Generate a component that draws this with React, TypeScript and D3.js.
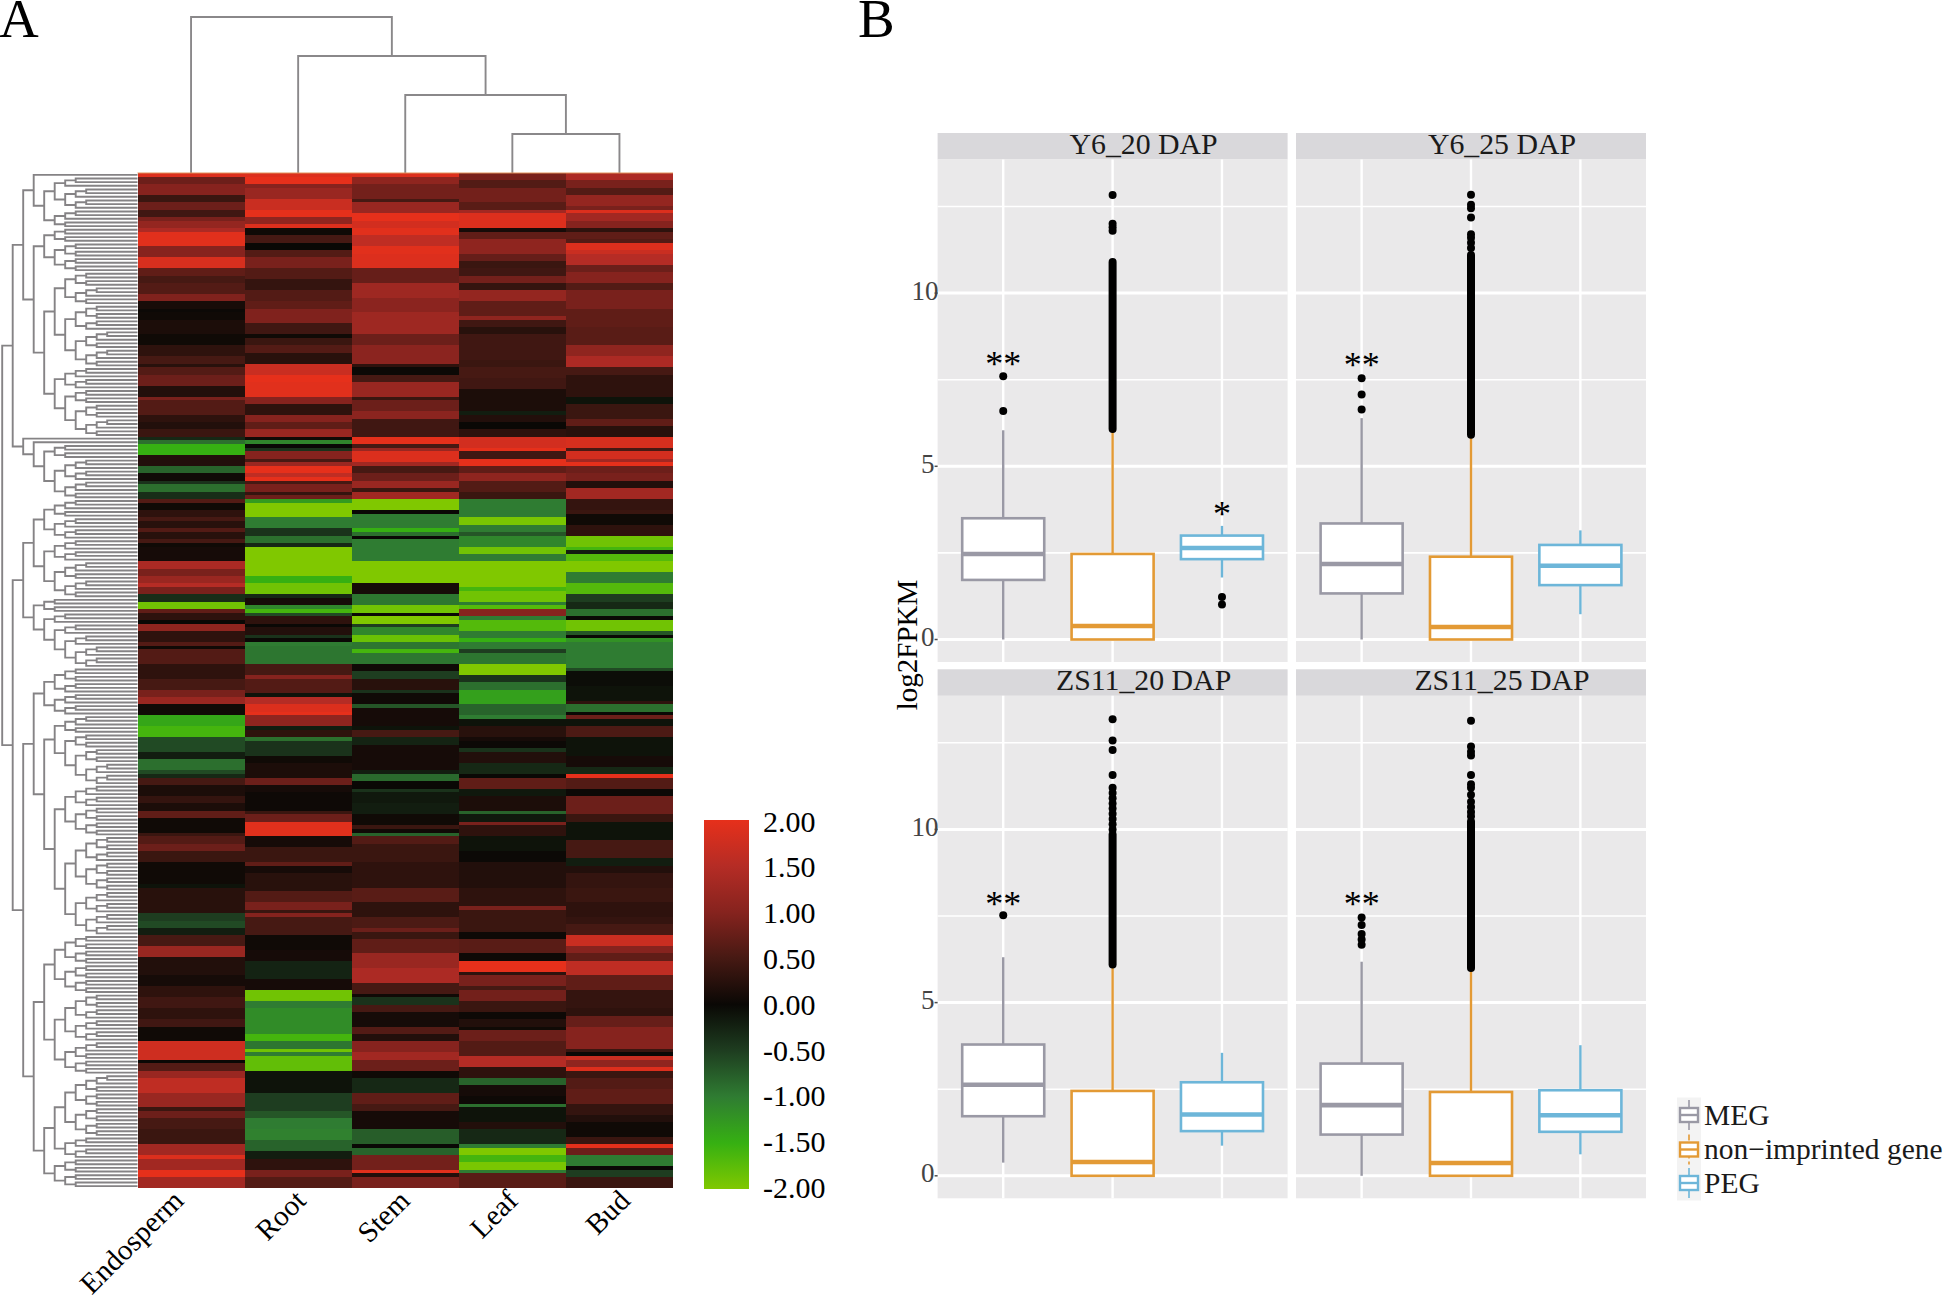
import * as d3 from 'd3';

// panel A: heatmap read as [last row, value] runs per tissue, top to bottom
const tissues = ['Endosperm', 'Root', 'Stem', 'Leaf', 'Bud'];
const rowCount = 277;
const endospermRuns = [[1,1.9],[3,.8],[6,1],[8,.4],[10,.8],[12,.45],[13,.9],[15,1.15],[16,1.4],[20,1.95],[23,1],[26,1.85],[28,.7],[30,.5],[33,.6],[35,.95],[37,.12],[38,.02],[40,.05],[44,.15],[47,.05],[50,.3],[52,.5],[53,.25],[55,.6],[58,.8],[61,.2],[62,.9],[66,.6],[68,.3],[70,.2],[72,.4],[73,-.3],[74,-.9],[77,-1.5],[80,.2],[82,-.8],[84,.05],[85,-.4],[87,-.9],[89,-.35],[90,.6],[92,.05],[94,.3],[95,.5],[97,.25],[98,.6],[100,.25],[101,.5],[102,.05],[106,.1],[108,1.4],[110,.9],[112,1.2],[113,1.5],[115,.9],[117,-.35],[119,-1.9],[120,.7],[122,.3],[123,0],[125,1.1],[128,.3],[129,.6],[130,.05],[134,.6],[138,.3],[141,.5],[143,.9],[145,1.2],[148,.05],[151,-1.4],[154,-1.6],[158,-.6],[160,-.2],[163,-.9],[164,-.6],[165,-.3],[167,.5],[170,.15],[172,.35],[174,.15],[176,.7],[180,.05],[181,.4],[183,.6],[185,.8],[188,.4],[194,.05],[195,-.1],[202,.25],[204,-.5],[206,-.6],[208,-.2],[211,.5],[214,1.2],[219,.2],[222,.1],[225,.3],[228,.45],[231,.3],[233,.45],[237,.05],[242,1.75],[243,0],[245,.6],[247,1.2],[251,1.6],[255,1.2],[256,.4],[258,.8],[261,.5],[265,.4],[268,1.3],[269,1.9],[272,1.3],[274,2],[277,1.3]];
const rootRuns = [[1,1.9],[3,2],[4,1],[7,1.2],[10,1.7],[12,2],[14,1.1],[15,1.9],[17,.05],[19,.5],[21,0],[23,.6],[26,.9],[29,.6],[32,.35],[35,.6],[37,.7],[41,.95],[44,.45],[45,.05],[47,.4],[49,.6],[52,.25],[55,1.7],[57,2],[61,1.95],[63,1],[66,.3],[68,1],[70,.7],[72,1.2],[73,.05],[74,-1.1],[75,0],[76,-.4],[78,1],[79,.5],[80,1.2],[82,2],[83,1.6],[84,2],[85,.5],[87,.9],[88,.35],[89,.8],[90,-1.3],[94,-2],[97,-1],[99,-.4],[101,-.9],[102,-.3],[110,-2],[112,-1.5],[115,-1.9],[116,-.3],[118,.1],[119,-1.1],[120,-1.6],[121,-.6],[123,.3],[124,0],[126,.2],[127,-.4],[128,0],[129,-1],[134,-.95],[137,.5],[138,1],[142,.6],[143,-.1],[145,1.5],[147,1.9],[148,2],[151,1.1],[152,-.2],[154,.3],[155,-.9],[159,-.4],[161,.05],[165,.15],[167,.8],[169,.1],[174,.03],[175,.4],[177,.8],[181,1.95],[184,.1],[188,.4],[189,.7],[191,.1],[196,.25],[199,.6],[201,.9],[202,.4],[203,1],[208,.5],[212,.05],[215,.1],[220,-.25],[223,.1],[226,-1.9],[228,-1],[235,-1.15],[237,-1.6],[239,-.95],[240,-1.9],[241,-1],[245,-1.8],[251,-.1],[256,-.5],[258,-.7],[261,-1],[264,-1.05],[267,-.8],[269,-.2],[272,.3],[274,.9],[277,.6]];
const stemRuns = [[1,1.9],[3,1.1],[7,.85],[8,.5],[11,1.2],[13,2],[15,1.8],[17,1.95],[20,1.6],[22,1.95],[26,1.9],[30,.75],[34,1.25],[38,1.05],[44,1.25],[47,.8],[52,1.05],[53,.3],[55,.02],[57,.5],[61,1.2],[62,.4],[65,.8],[67,1.05],[72,.45],[74,2],[75,.5],[76,1.2],[79,1.9],[80,1.3],[82,.5],[84,.8],[86,1.2],[87,.4],[89,1.3],[92,-2],[93,0],[97,-1],[98,-1.5],[99,-.9],[100,0],[106,-1],[112,-2],[115,.1],[118,-.95],[120,-1.9],[121,0],[123,-2],[124,-.5],[126,-1.1],[128,-1.85],[130,-.95],[131,-1.6],[134,-.95],[136,.05],[138,-.5],[141,.25],[142,-.4],[145,.05],[146,-.7],[151,.1],[152,-.1],[154,.5],[156,-.25],[163,.1],[164,-.2],[166,-.85],[168,0],[169,-.4],[172,-.15],[175,-.2],[178,.05],[179,.4],[180,.05],[181,-.8],[183,.6],[188,.4],[195,.3],[199,.65],[203,.3],[206,.55],[207,.8],[209,.4],[213,.7],[217,1.2],[221,1.4],[224,.5],[225,.05],[227,-.4],[229,.5],[233,.1],[235,.6],[237,.2],[240,1],[242,1.3],[245,.8],[247,.05],[251,-.3],[254,.7],[256,.5],[261,.1],[265,-.75],[266,0],[268,-.8],[272,.85],[273,1.95],[274,.2],[277,.9]];
const leafRuns = [[2,.9],[4,.6],[8,.85],[10,.65],[11,1.3],[15,1.9],[16,.1],[18,.7],[22,1.1],[24,.75],[26,.4],[28,.45],[30,.85],[32,.35],[35,1.15],[39,.7],[40,1.1],[42,.45],[44,.25],[51,.45],[53,.4],[56,.5],[59,.45],[65,.15],[66,-.2],[68,.2],[70,0],[72,.3],[75,1.8],[76,2],[78,.45],[80,2],[82,.7],[84,1.1],[87,.6],[89,.4],[94,-1],[96,-1.95],[98,-1],[99,-.7],[102,-1.1],[104,-1.9],[106,-1],[113,-2],[114,-1.6],[117,-1.9],[118,-1],[119,-1.7],[121,1],[122,-1],[125,-1.7],[127,-1],[128,-1.5],[130,-1],[131,-.5],[134,-.95],[137,-2],[139,-.4],[141,-.9],[145,-1.35],[148,-.8],[149,-1],[151,-.1],[154,.25],[155,.1],[157,.02],[158,-.4],[161,.2],[164,-.3],[165,0],[168,.7],[170,-.15],[174,.15],[175,-.8],[177,-.15],[178,.9],[181,.3],[185,-.1],[188,.02],[195,.2],[200,.3],[201,.9],[207,.4],[209,.03],[213,.65],[215,.03],[218,2],[219,.3],[222,.9],[223,.5],[226,.85],[229,.4],[231,.03],[233,.2],[234,.05],[237,.8],[241,.6],[244,1.5],[247,.3],[249,-.8],[252,.1],[254,.03],[255,-.9],[259,-.1],[261,.2],[265,-.3],[266,-1],[268,-2],[270,-1.6],[272,-1.95],[273,-1],[277,.65]];
const budRuns = [[2,1.4],[4,.9],[6,.6],[9,1.15],[10,.9],[11,1.9],[13,1.3],[15,1],[16,.3],[18,.7],[19,.6],[21,1.9],[22,1.7],[25,1.5],[27,.8],[30,1],[32,.6],[37,.9],[42,.7],[47,.65],[50,1.1],[53,1.4],[55,.5],[61,.3],[63,-.1],[67,.4],[69,.7],[72,.25],[75,1.85],[76,.5],[78,1.8],[79,1.3],[80,2],[82,.8],[84,.9],[86,.2],[89,1.3],[92,.35],[93,.4],[96,.05],[99,.3],[102,-1.9],[103,-1.6],[104,-.2],[106,-1.7],[109,-2],[112,-1],[115,-1.7],[117,-.5],[119,-.3],[121,-.9],[122,0],[125,-1.9],[126,-.7],[127,0],[128,-1.2],[135,-1],[136,-.6],[140,-.05],[144,-.1],[145,.3],[147,-.9],[148,0],[149,.8],[151,-.1],[154,.55],[159,-.1],[162,.1],[164,-.3],[165,2],[168,.6],[170,.02],[175,.8],[177,.4],[182,-.1],[187,.5],[189,-.2],[191,.2],[195,.35],[199,.4],[203,.3],[205,.35],[208,.5],[211,1.7],[213,1],[215,.7],[219,1.6],[223,.7],[228,.35],[230,.3],[233,.75],[239,1],[240,.4],[241,.02],[242,1.7],[244,1.1],[245,1.9],[247,.4],[250,.6],[254,.7],[257,.35],[259,.2],[263,.05],[265,.4],[266,2],[268,.8],[271,-1],[272,0],[274,-.5],[277,.4]];
const tissueRuns = [endospermRuns, rootRuns, stemRuns, leafRuns, budRuns];

const legendTicks = [2, 1.5, 1, 0.5, 0, -0.5, -1, -1.5, -2];
const legendColors = ['#e6301b', '#b52c25', '#86231e', '#461913', '#0a0805', '#1e3d20', '#2f7c32', '#36b012', '#80c800'];

// column tree, then row tree: a number stands for a small cluster of that many rows
const columnTree = ['Endosperm', ['Root', ['Stem', ['Leaf', 'Bud']]]];
const rowTreeA = [
  [[1, [[[3, 6], 5]]], [[4, 8], [[[4, 5], [7, 10]], [6, [4, [4, [3, 2]]]]]]],
  [1, [1, [4, [[3, 3], [3, 2]]]]],
];
const rowTreeB = [
  [[[5, 6], [6, 10]], [4, [3, [3, [3, [3, 3]]]]]],
  [
    [[7, 6], [[5, [4, [4, [3, 3]]]], [[6, 8], [[7, 8], [6, 6]]]]],
    [[[[8, 8], [[7, 6], 9]], [[[9, 8], 6], 8]]],
  ],
];

// panel B: one row per panel, one column per gene group
const panels = ['Y6_20 DAP', 'Y6_25 DAP', 'ZS11_20 DAP', 'ZS11_25 DAP'];
const geneGroups = ['MEG', 'non\u2212imprinted gene', 'PEG'];
const groupColors = ['#9a99a5', '#e39a35', '#6db6d9'];
const whiskerLow = [[0, 0, 1.79], [0, 0, 0.73], [0.38, 0, 0.87], [0, 0, 0.62]];
const quartile1 = [[1.72, 0, 2.32], [1.33, 0, 1.57], [1.72, 0, 1.29], [1.19, 0, 1.27]];
const medians = [[2.47, 0.39, 2.64], [2.18, 0.36, 2.13], [2.63, 0.4, 1.77], [2.04, 0.37, 1.75]];
const quartile3 = [[3.5, 2.47, 3.0], [3.35, 2.39, 2.73], [3.79, 2.45, 2.7], [3.24, 2.42, 2.47]];
const whiskerHigh = [[6.04, 6.08, 3.28], [6.39, 5.91, 3.15], [6.31, 6.1, 3.55], [6.18, 6.0, 3.77]];
const megOutliers = [[7.6, 6.6], [7.54, 7.07, 6.64], [7.52], [7.46, 7.24, 6.98, 6.82, 6.67]];
const pegOutliers = [[1.23, 1.01], [], [], []];
// non-imprinted outliers overlap into a solid bar between these two values
const nonDenseBars = [[6.08, 10.9], [5.91, 11.1], [6.1, 9.85], [6.0, 10.23]];
const nonOutliers = [
  [11.8, 11.9, 12.0, 12.83],
  [11.3, 11.45, 11.6, 11.7, 12.18, 12.45, 12.55, 12.84],
  [10.0, 10.15, 10.3, 10.45, 10.6, 10.75, 10.9, 11.05, 11.2, 11.57, 12.29, 12.57, 13.18],
  [10.38, 10.5, 10.65, 10.8, 11.0, 11.2, 11.3, 11.57, 12.13, 12.24, 12.39, 13.14],
];
const starMarks = [
  [{ group: 0, at: 8.1, text: '**' }, { group: 2, at: 3.76, text: '*' }],
  [{ group: 0, at: 8.06, text: '**' }],
  [{ group: 0, at: 8.0, text: '**' }],
  [{ group: 0, at: 7.98, text: '**' }],
];
const majorTicks = [0, 5, 10];
const minorTicks = [2.5, 7.5, 12.5];

const SERIF = '"Liberation Serif", serif';

const expand = (n: any): any => {
  if (Array.isArray(n)) return n.length === 1 ? expand(n[0]) : n.map(expand);
  if (typeof n !== 'number' || n === 1) return n;
  return [expand(Math.ceil(n / 2)), expand(Math.floor(n / 2))];
};

// cluster puts leaf i at (i + 0.5) / n * size, so size n gives leaves in row units
function layoutTree(tree: any, size: number) {
  const root = d3.hierarchy(expand(tree), (d: any) => (Array.isArray(d) ? d : null));
  d3.cluster().separation(() => 1).size([size, 1])(root as any);
  return root as any;
}

const rowY = d3.scaleLinear().domain([0, rowCount]).range([173, 1188]);
const colX = d3.scaleBand().domain(tissues).range([137.5, 673]);
const heatColor = d3.scaleLinear<string>().domain(legendTicks).range(legendColors).clamp(true);
const labelNudge = [-13, 2, -1, 0, 5];

function Heatmap() {
  const rowRoot = layoutTree([rowTreeA, rowTreeB], rowCount);
  const depthX = (d: number) => 2.2 + 10.5 * d;
  let rowPath = '';
  rowRoot.links().forEach(({ source, target }: any) => {
    const endX = target.children ? depthX(target.depth) : 137.5;
    rowPath += `M${depthX(source.depth)},${rowY(source.x)}V${rowY(target.x)}H${endX}`;
  });

  const colRoot = layoutTree(columnTree, 535.5);
  const depthY = (d: number) => 17 + 39 * d;
  let colPath = '';
  colRoot.links().forEach(({ source, target }: any) => {
    const endY = target.children ? depthY(target.depth) : 173;
    colPath += `M${137.5 + source.x},${depthY(source.depth)}H${137.5 + target.x}V${endY}`;
  });

  const legendY = d3.scaleLinear().domain([2, -2]).range([820, 1189]);
  const labelY = d3.scaleLinear().domain([2, -2]).range([821, 1187.5]);

  return (
    <g>
      <path d={rowPath} fill="none" stroke="#858385" strokeWidth={1.9} />
      <path d={colPath} fill="none" stroke="#8a888a" strokeWidth={1.9} />
      <g shapeRendering="crispEdges">
        {tissueRuns.map((runs, c) => {
          let start = 0;
          return runs.map(([end, v], i) => {
            const y0 = rowY(start);
            start = end;
            return <rect key={`${c}-${i}`} x={colX(tissues[c])} y={y0} width={colX.bandwidth()} height={rowY(end) - y0} fill={heatColor(v)} />;
          });
        })}
      </g>
      <line x1={137.5} x2={673} y1={173} y2={173} stroke="#e0905a" strokeWidth={1} />
      {tissues.map((t, i) => {
        const x = colX(t)! + colX.bandwidth() / 2 + labelNudge[i];
        return (
          <text key={t} transform={`translate(${x},1195) rotate(-45)`} textAnchor="end" fontFamily={SERIF} fontSize={29} dy="0.35em" fill="#000">
            {t}
          </text>
        );
      })}
      <defs>
        <linearGradient id="heatLegend" x1="0" x2="0" y1="0" y2="1">
          {legendTicks.map((t, i) => (
            <stop key={t} offset={(legendY(t) - 820) / 369} stopColor={legendColors[i]} />
          ))}
        </linearGradient>
      </defs>
      <rect x={704} y={820} width={45} height={369} fill="url(#heatLegend)" />
      {legendTicks.map((t) => (
        <text key={t} x={763} y={labelY(t)} dy="0.35em" fontFamily={SERIF} fontSize={30} fill="#000">
          {t.toFixed(2)}
        </text>
      ))}
    </g>
  );
}

function BoxPanel({ index, left, top }: { index: number; left: number; top: number }) {
  const width = 350;
  const stripH = 26.5;
  const plotTop = top + stripH;
  const plotBottom = top + 529;
  const y = d3.scaleLinear().domain([0, 10]).range([top + 506.5, top + 160.1]);
  const x = d3.scalePoint().domain(geneGroups).range([left, left + width]).padding(0.6);
  const boxW = x.step() * 0.75;
  const showAxis = index % 2 === 0;

  return (
    <g>
      <rect x={left} y={top} width={width} height={stripH} fill="#d9d8db" />
      <text x={left + width / 2 + 31} y={top + 21} textAnchor="middle" fontFamily={SERIF} fontSize={29.8} fill="#1a1a1a">
        {panels[index]}
      </text>
      <rect x={left} y={plotTop} width={width} height={plotBottom - plotTop} fill="#eae9ea" />
      {minorTicks.map((t) => (
        <line key={t} x1={left} x2={left + width} y1={y(t)} y2={y(t)} stroke="#fff" strokeWidth={1.6} />
      ))}
      {majorTicks.map((t) => (
        <line key={t} x1={left} x2={left + width} y1={y(t)} y2={y(t)} stroke="#fff" strokeWidth={3} />
      ))}
      {geneGroups.map((g) => (
        <line key={g} x1={x(g)} x2={x(g)} y1={plotTop} y2={plotBottom} stroke="#fff" strokeWidth={2.4} />
      ))}
      {geneGroups.map((g, i) => {
        const cx = x(g)!;
        const color = groupColors[i];
        const points = i === 0 ? megOutliers[index] : i === 2 ? pegOutliers[index] : nonOutliers[index];
        return (
          <g key={g}>
            <line x1={cx} x2={cx} y1={y(whiskerHigh[index][i])} y2={y(quartile3[index][i])} stroke={color} strokeWidth={2.4} />
            <line x1={cx} x2={cx} y1={y(quartile1[index][i])} y2={y(whiskerLow[index][i])} stroke={color} strokeWidth={2.4} />
            <rect x={cx - boxW / 2} y={y(quartile3[index][i])} width={boxW} height={y(quartile1[index][i]) - y(quartile3[index][i])} fill="#fff" stroke={color} strokeWidth={2.6} />
            <line x1={cx - boxW / 2} x2={cx + boxW / 2} y1={y(medians[index][i])} y2={y(medians[index][i])} stroke={color} strokeWidth={4.6} />
            {i === 1 && (
              <line x1={cx} x2={cx} y1={y(nonDenseBars[index][0])} y2={y(nonDenseBars[index][1])} stroke="#000" strokeWidth={8} strokeLinecap="round" />
            )}
            {points.map((v, k) => (
              <circle key={k} cx={cx} cy={y(v)} r={4} fill="#000" />
            ))}
          </g>
        );
      })}
      {starMarks[index].map((s) => (
        <text key={s.group} x={x(geneGroups[s.group])} y={y(s.at) + 17} textAnchor="middle" fontFamily={SERIF} fontSize={36} fill="#000">
          {s.text}
        </text>
      ))}
      {showAxis &&
        majorTicks.map((t) => (
          <g key={t}>
            <line x1={left - 3} x2={left} y1={y(t)} y2={y(t)} stroke="#4d4d4d" strokeWidth={1.5} />
            <text x={t === 10 ? left + 1 : left - 3} y={y(t) - 3} dy="0.35em" textAnchor="end" fontFamily={SERIF} fontSize={27} fill="#444">
              {t}
            </text>
          </g>
        ))}
    </g>
  );
}

function LegendKey({ index, cy }: { index: number; cy: number }) {
  const color = groupColors[index];
  return (
    <g>
      <rect x={1677} y={cy - 17.5} width={24} height={35} fill="#f3f3f3" />
      <line x1={1689} x2={1689} y1={cy - 15} y2={cy + 15} stroke={color} strokeWidth={1.6} strokeDasharray={index === 1 ? '6 3' : undefined} />
      <rect x={1680} y={cy - 7} width={18} height={14} fill="#fff" stroke={color} strokeWidth={2.4} />
      <line x1={1680} x2={1698} y1={cy} y2={cy} stroke={color} strokeWidth={2.4} />
      <text x={1704} y={cy} dy="0.33em" fontFamily={SERIF} fontSize={29.5} fill="#1a1a1a">
        {geneGroups[index]}
      </text>
    </g>
  );
}

export default function App() {
  return (
    <svg width={1944} height={1297} viewBox="0 0 1944 1297" style={{ position: 'absolute', left: 0, top: 0, background: '#fff' }}>
      <text x={-1} y={37} fontFamily={SERIF} fontSize={55} fill="#000">A</text>
      <text x={858} y={37} fontFamily={SERIF} fontSize={55} fill="#000">B</text>
      <Heatmap />
      <BoxPanel index={0} left={937.6} top={133} />
      <BoxPanel index={1} left={1296} top={133} />
      <BoxPanel index={2} left={937.6} top={669.3} />
      <BoxPanel index={3} left={1296} top={669.3} />
      <text transform="translate(917,645) rotate(-90)" textAnchor="middle" fontFamily={SERIF} fontSize={29} fill="#000">log2FPKM</text>
      {[1115, 1149.5, 1183].map((cy, i) => (
        <LegendKey key={cy} index={i} cy={cy} />
      ))}
    </svg>
  );
}
